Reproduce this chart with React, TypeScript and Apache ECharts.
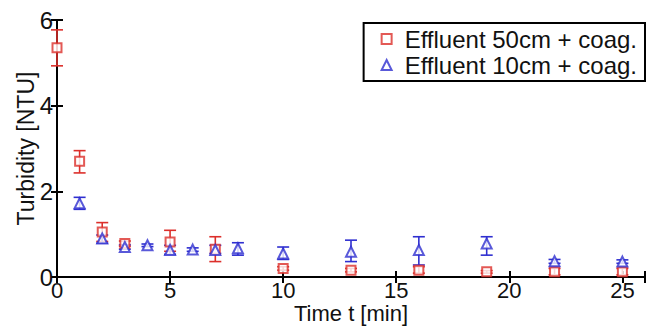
import React, { useEffect, useRef } from "react";
import * as echarts from "echarts";

const redTimes = [0, 1, 2, 3, 5, 7, 10, 13, 16, 19, 22, 25];
const redValues = [5.35, 2.7, 1.05, 0.78, 0.82, 0.65, 0.2, 0.16, 0.16, 0.12, 0.12, 0.12];
const redLow = [4.93, 2.43, 0.83, 0.72, 0.6, 0.36, 0.16, 0.12, 0.09, 0.09, 0.05, 0.05];
const redHigh = [5.77, 2.95, 1.27, 0.84, 1.09, 0.94, 0.24, 0.2, 0.24, 0.15, 0.2, 0.2];

const blueTimes = [1, 2, 3, 4, 5, 6, 7, 8, 10, 13, 16, 19, 22, 25];
const blueValues = [1.72, 0.9, 0.7, 0.74, 0.63, 0.64, 0.63, 0.67, 0.55, 0.59, 0.63, 0.78, 0.37, 0.36];
const blueLow = [1.58, 0.79, 0.65, 0.71, 0.53, 0.6, 0.55, 0.51, 0.41, 0.36, 0.28, 0.51, 0.32, 0.32];
const blueHigh = [1.86, 0.98, 0.75, 0.77, 0.74, 0.68, 0.74, 0.8, 0.7, 0.86, 0.94, 0.94, 0.41, 0.4];

const redName = "Effluent 50cm + coag.";
const blueName = "Effluent 10cm + coag.";
const RED = "#dc2f2b";
const BLUE = "#2f2fd0";
const FONT = "Liberation Sans, Arial, sans-serif";

function errorSeries(times: number[], low: number[], high: number[], color: string) {
  return {
    type: "custom",
    silent: true,
    clip: false,
    z: 2,
    data: times.map((t, i) => [t, low[i], high[i]]),
    renderItem: (params: any, api: any) => {
      const x = api.value(0);
      const lo = api.coord([x, api.value(1)]);
      const hi = api.coord([x, api.value(2)]);
      const hw = 6;
      const style = { stroke: color, lineWidth: 1.6 };
      return {
        type: "group",
        children: [
          { type: "line", shape: { x1: lo[0], y1: lo[1], x2: hi[0], y2: hi[1] }, style },
          { type: "line", shape: { x1: lo[0] - hw, y1: lo[1], x2: lo[0] + hw, y2: lo[1] }, style },
          { type: "line", shape: { x1: hi[0] - hw, y1: hi[1], x2: hi[0] + hw, y2: hi[1] }, style },
        ],
      };
    },
  };
}

export default function App() {
  const ref = useRef<HTMLDivElement>(null);
  useEffect(() => {
    document.body.style.margin = "0";
    const chart = echarts.init(ref.current!, null, { renderer: "svg" });
    const axisLine = { show: true, lineStyle: { color: "#000", width: 2 } };
    const tick = { show: true, inside: true, length: 6, lineStyle: { color: "#000", width: 2 } };
    chart.setOption({
      animation: false,
      backgroundColor: "#fff",
      grid: { left: 57, top: 20, right: 2, bottom: 50, containLabel: false, outerBoundsMode: "none" },
      legend: {
        orient: "vertical",
        right: 2,
        top: 23,
        data: [redName, blueName],
        borderColor: "#000",
        borderWidth: 2,
        backgroundColor: "#fff",
        padding: [4, 8, 4, 17],
        itemGap: 2,
        itemWidth: 10,
        itemHeight: 10,
        textStyle: { fontFamily: FONT, fontSize: 24, color: "#111", padding: [0, 0, 0, 8] },
      },
      xAxis: [
        {
          type: "value",
          min: 0,
          max: 26,
          interval: 5,
          name: "Time t [min]",
          nameLocation: "middle",
          nameGap: 25,
          nameMoveOverlap: false,
          nameTextStyle: { fontFamily: FONT, fontSize: 22, color: "#111" },
          axisLine,
          axisTick: tick,
          splitLine: { show: false },
          axisLabel: {
            fontFamily: FONT,
            fontSize: 22,
            color: "#111",
            margin: 2,
            formatter: (v: number) => (v % 5 === 0 ? String(v) : ""),
          },
        },
        {
          type: "value",
          position: "top",
          min: 0,
          max: 26,
          interval: 5,
          axisLine,
          axisTick: tick,
          splitLine: { show: false },
          axisLabel: { show: false },
        },
      ],
      yAxis: [
        {
          type: "value",
          min: 0,
          max: 6,
          interval: 2,
          name: "Turbidity [NTU]",
          nameLocation: "middle",
          nameGap: 20,
          nameMoveOverlap: false,
          nameTextStyle: { fontFamily: FONT, fontSize: 23, color: "#111" },
          axisLine,
          axisTick: tick,
          splitLine: { show: false },
          axisLabel: { fontFamily: FONT, fontSize: 24, color: "#111", margin: 4 },
        },
        {
          type: "value",
          position: "right",
          min: 0,
          max: 6,
          interval: 2,
          axisLine,
          axisTick: tick,
          splitLine: { show: false },
          axisLabel: { show: false },
        },
      ],
      series: [
        errorSeries(redTimes, redLow, redHigh, RED),
        {
          name: redName,
          type: "scatter",
          symbol: "emptyRect",
          symbolSize: 9,
          clip: false,
          z: 3,
          itemStyle: { color: RED, borderColor: RED, borderWidth: 1.6 },
          data: redTimes.map((t, i) => [t, redValues[i]]),
        },
        errorSeries(blueTimes, blueLow, blueHigh, BLUE),
        {
          name: blueName,
          type: "scatter",
          symbol: "emptyTriangle",
          symbolSize: 10,
          clip: false,
          z: 4,
          itemStyle: { color: BLUE, borderColor: BLUE, borderWidth: 1.6 },
          data: blueTimes.map((t, i) => [t, blueValues[i]]),
        },
      ],
    });
    return () => chart.dispose();
  }, []);
  return <div ref={ref} style={{ position: "fixed", left: 0, top: 0, width: 647, height: 327 }} />;
}
